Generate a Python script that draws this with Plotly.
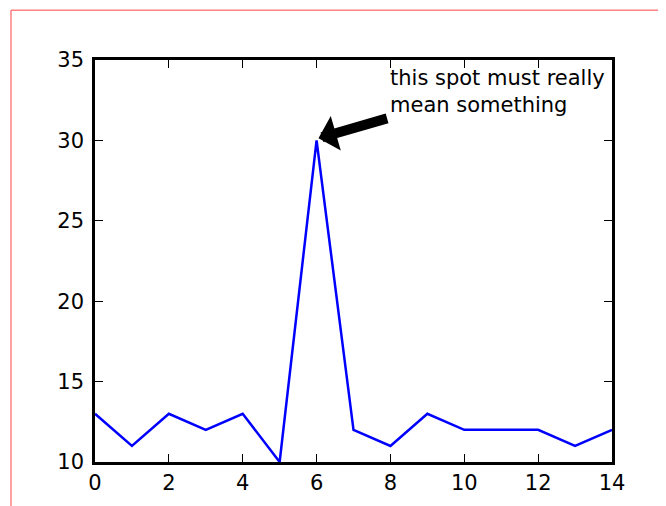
import plotly.graph_objects as go

x = list(range(15))
y = [13, 11, 13, 12, 13, 10, 30, 12, 11, 13, 12, 12, 12, 11, 12]

note = "this spot must really<br>mean something"
note_xy = (8, 31.5)
point_xy = (6, 30.1)

fig = go.Figure()
fig.add_trace(go.Scatter(x=x, y=y, mode="lines", line=dict(color="blue", width=2.5)))

# text and arrow are separate, like matplotlib's annotate
fig.add_annotation(x=note_xy[0], y=note_xy[1], text=note, showarrow=False,
                   xanchor="left", yanchor="bottom", align="left", yshift=-3, xshift=-2,
                   font=dict(size=21, color="black"))
fig.add_annotation(x=point_xy[0], y=point_xy[1], ax=note_xy[0] - 0.05, ay=note_xy[1] - 0.1,
                   axref="x", ayref="y", text="", showarrow=True,
                   arrowhead=1, arrowsize=0.6, arrowwidth=10, arrowcolor="black",
                   standoff=2)

# red frame around the figure
fig.add_shape(type="line", xref="paper", yref="paper", x0=-0.1625, x1=1.2, y0=1.124, y1=1.124,
              line=dict(color="#ff4444", width=1))
fig.add_shape(type="line", xref="paper", yref="paper", x0=-0.1625, x1=-0.1625, y0=1.124, y1=-0.2,
              line=dict(color="#ff4444", width=1))

axis = dict(showline=True, linecolor="black", linewidth=2.5, mirror="ticks", ticks="inside",
            ticklen=8, tickwidth=1, tickcolor="black", showgrid=False, zeroline=False,
            tickfont=dict(size=21, color="black"))
fig.update_xaxes(range=[0, 14], dtick=2, **axis)
fig.update_yaxes(range=[10, 35], dtick=5, ticklabelstandoff=4, **axis)

fig.update_layout(width=666, height=506, margin=dict(l=87, r=62, t=52, b=52),
                  plot_bgcolor="white", paper_bgcolor="white", showlegend=False,
                  font=dict(family="DejaVu Sans"))

fig.write_html("out.html")
